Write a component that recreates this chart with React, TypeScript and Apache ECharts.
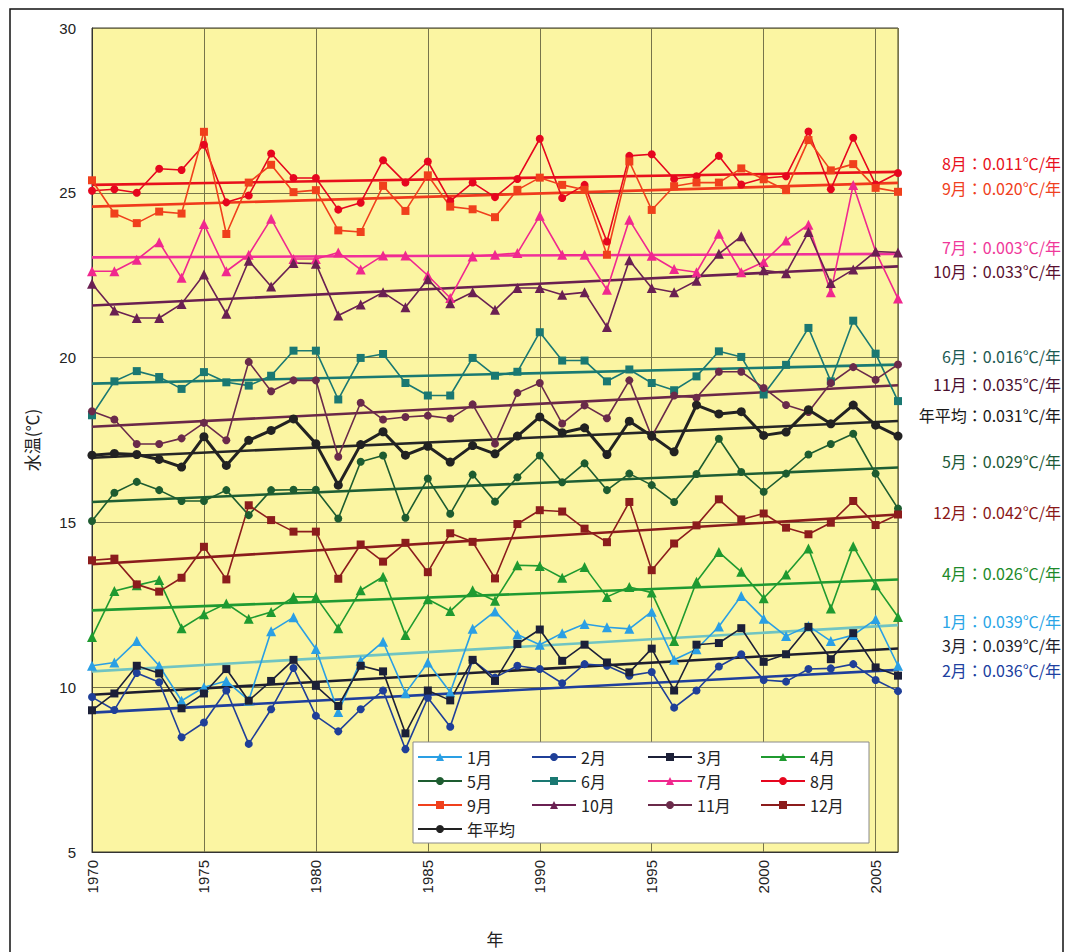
import React, { useEffect, useRef } from "react";
import * as echarts from "echarts";

// 年 (x axis)
const years = [
  1970, 1971, 1972, 1973, 1974, 1975, 1976, 1977, 1978, 1979,
  1980, 1981, 1982, 1983, 1984, 1985, 1986, 1987, 1988, 1989,
  1990, 1991, 1992, 1993, 1994, 1995, 1996, 1997, 1998, 1999,
  2000, 2001, 2002, 2003, 2004, 2005, 2006,
];

const seriesNames = ["1月", "2月", "3月", "4月", "5月", "6月", "7月", "8月", "9月", "10月", "11月", "12月", "年平均"];

// 月別水温 (℃)
const jan = [10.65, 10.75, 11.4, 10.65, 9.59, 10.0, 10.19, 9.6, 11.7, 12.12, 11.16, 9.25, 10.8, 11.38, 9.82, 10.75, 9.85, 11.77, 12.3, 11.6, 11.29, 11.64, 11.92, 11.82, 11.77, 12.29, 10.83, 11.15, 11.84, 12.77, 12.08, 11.55, 11.86, 11.4, 11.58, 12.06, 10.65];
const feb = [9.7, 9.31, 10.43, 10.15, 8.48, 8.93, 9.9, 8.28, 9.33, 10.58, 9.13, 8.66, 9.33, 9.9, 8.12, 9.68, 8.8, 10.82, 10.29, 10.65, 10.55, 10.12, 10.7, 10.65, 10.35, 10.46, 9.38, 9.9, 10.63, 11.0, 10.22, 10.17, 10.55, 10.57, 10.7, 10.22, 9.88];
const mar = [9.3, 9.81, 10.65, 10.42, 9.36, 9.81, 10.55, 9.59, 10.19, 10.83, 10.04, 9.43, 10.65, 10.48, 8.6, 9.9, 9.6, 10.83, 10.19, 11.31, 11.75, 10.8, 11.29, 10.75, 10.45, 11.17, 9.9, 11.29, 11.34, 11.79, 10.77, 11.0, 11.83, 10.85, 11.64, 10.6, 10.35];
const apr = [11.52, 12.92, 13.09, 13.25, 11.79, 12.21, 12.54, 12.08, 12.28, 12.74, 12.74, 11.79, 12.94, 13.35, 11.58, 12.67, 12.31, 12.94, 12.62, 13.7, 13.68, 13.32, 13.65, 12.74, 13.04, 12.87, 11.4, 13.2, 14.1, 13.5, 12.7, 13.42, 14.21, 12.39, 14.28, 13.09, 12.13];
const may = [15.04, 15.9, 16.23, 15.98, 15.65, 15.65, 15.98, 15.22, 15.98, 15.99, 15.99, 15.12, 16.84, 17.03, 15.14, 16.33, 15.26, 16.45, 15.63, 16.37, 17.03, 16.22, 16.79, 15.98, 16.48, 16.13, 15.62, 16.47, 17.54, 16.53, 15.93, 16.48, 17.06, 17.38, 17.69, 16.48, 15.42];
const jun = [18.25, 19.28, 19.59, 19.41, 19.05, 19.56, 19.25, 19.15, 19.45, 20.21, 20.21, 18.73, 19.99, 20.11, 19.23, 18.85, 18.85, 19.99, 19.45, 19.57, 20.77, 19.91, 19.91, 19.28, 19.64, 19.23, 19.01, 19.43, 20.19, 20.02, 18.88, 19.78, 20.9, 19.28, 21.12, 20.12, 18.68];
const jul = [22.62, 22.62, 22.97, 23.5, 22.42, 24.05, 22.62, 23.12, 24.21, 22.99, 22.99, 23.19, 22.67, 23.1, 23.1, 22.49, 21.81, 23.07, 23.12, 23.17, 24.3, 23.12, 23.12, 22.06, 24.18, 23.09, 22.69, 22.59, 23.76, 22.59, 22.9, 23.55, 24.03, 21.98, 25.24, 23.22, 21.79];
const aug = [25.06, 25.11, 25.0, 25.73, 25.69, 26.46, 24.71, 24.92, 26.19, 25.45, 25.45, 24.49, 24.7, 25.99, 25.31, 25.95, 24.75, 25.31, 24.87, 25.42, 26.64, 24.84, 25.24, 23.52, 26.12, 26.17, 25.42, 25.5, 26.12, 25.25, 25.44, 25.5, 26.86, 25.11, 26.67, 25.25, 25.6];
const sep = [25.38, 24.37, 24.08, 24.43, 24.37, 26.85, 23.75, 25.31, 25.85, 25.02, 25.08, 23.86, 23.81, 25.21, 24.45, 25.53, 24.58, 24.5, 24.26, 25.09, 25.46, 25.24, 25.09, 23.12, 25.95, 24.48, 25.2, 25.31, 25.31, 25.74, 25.41, 25.08, 26.6, 25.68, 25.87, 25.15, 25.03];
const oct = [22.24, 21.43, 21.2, 21.2, 21.63, 22.52, 21.33, 22.94, 22.16, 22.87, 22.85, 21.28, 21.61, 21.98, 21.53, 22.38, 21.65, 21.98, 21.45, 22.11, 22.11, 21.91, 21.98, 20.93, 22.95, 22.11, 21.98, 22.33, 23.15, 23.68, 22.65, 22.56, 23.81, 22.26, 22.67, 23.22, 23.19];
const nov = [18.37, 18.12, 17.38, 17.38, 17.55, 18.02, 17.49, 19.87, 18.98, 19.31, 19.31, 16.99, 18.63, 18.12, 18.2, 18.24, 18.15, 18.58, 17.39, 18.93, 19.23, 18.0, 18.55, 18.16, 19.31, 17.6, 18.85, 18.78, 19.57, 19.57, 19.08, 18.56, 18.35, 19.23, 19.71, 19.33, 19.79];
const dec = [13.85, 13.9, 13.12, 12.9, 13.32, 14.26, 13.27, 15.52, 15.07, 14.72, 14.72, 13.29, 14.33, 13.81, 14.38, 13.49, 14.67, 14.41, 13.3, 14.95, 15.37, 15.33, 14.81, 14.4, 15.62, 13.55, 14.36, 14.91, 15.7, 15.09, 15.27, 14.84, 14.64, 14.99, 15.65, 14.92, 15.24];
const annual = [17.04, 17.09, 17.06, 16.91, 16.68, 17.6, 16.73, 17.49, 17.79, 18.14, 17.39, 16.13, 17.36, 17.75, 17.04, 17.31, 16.83, 17.33, 17.08, 17.62, 18.2, 17.72, 17.87, 17.06, 18.07, 17.62, 17.14, 18.56, 18.29, 18.36, 17.64, 17.74, 18.42, 17.99, 18.56, 17.95, 17.62];

// 回帰直線: 傾き (℃/年) と 1970年の値
const trendSlopes = [0.039, 0.036, 0.039, 0.026, 0.029, 0.016, 0.003, 0.011, 0.020, 0.033, 0.035, 0.042, 0.031];
const trendStarts = [10.48, 9.23, 9.77, 12.33, 15.62, 19.21, 23.04, 25.24, 24.58, 21.58, 17.9, 13.73, 16.96];

const yTicks = [5, 10, 15, 20, 25, 30];

const allValues = [jan, feb, mar, apr, may, jun, jul, aug, sep, oct, nov, dec, annual];

const markerColors = ["#2a9fe4", "#1f3f98", "#1c2038", "#1f9a30", "#1d5c30", "#1a7872", "#f0288e", "#e6061e", "#f0401c", "#6a2052", "#6a2a4a", "#8c1c1c", "#222222"];
const trendColors = ["#70c4c2", "#1f3f9c", "#1e1e2e", "#1f9a32", "#1e5e34", "#1a7a72", "#f0309a", "#e8101c", "#f03a1c", "#6a2050", "#6a2848", "#8a1c1c", "#262626"];
const labelColors = ["#2aa5e6", "#2040a0", "#1e1e2a", "#1e8a2a", "#1d5a38", "#1d5a52", "#f0389a", "#e81020", "#f04020", "#5a1030", "#4a1030", "#8a1818", "#1a1a1a"];
const symbols = ["triangle", "circle", "rect", "triangle", "circle", "rect", "triangle", "circle", "rect", "triangle", "circle", "rect", "circle"];

// right-hand slope labels: order top to bottom, with vertical centers
const labelOrder = [7, 8, 6, 9, 5, 10, 12, 4, 11, 3, 0, 2, 1];
const labelCenters = [163, 188, 247, 271, 356, 384, 415, 461, 512, 573, 621, 645, 670];

const FONT = "'Noto Sans CJK JP', 'Noto Sans', sans-serif";
const NUM_FONT = "'Liberation Sans Narrow', 'Liberation Sans', Arial, sans-serif";

export default function App() {
  const ref = useRef<HTMLDivElement>(null);

  useEffect(() => {
    if (!ref.current) return;
    const chart = echarts.init(ref.current, undefined, { renderer: "svg" });

    const x0 = years[0];
    const x1 = years[years.length - 1];

    const dataSeries = seriesNames.map((name, i) => ({
      name,
      type: "line",
      data: years.map((y, j) => [y, allValues[i][j]]),
      symbol: symbols[i],
      symbolSize: symbols[i] === "triangle" ? 10 : i === 12 ? 9 : 8,
      lineStyle: { color: markerColors[i], width: i === 12 ? 3 : 1.6 },
      itemStyle: { color: markerColors[i] },
      z: i === 12 ? 4 : 3,
    }));

    const trendSeries = seriesNames.map((name, i) => ({
      name: name + " 傾向",
      type: "line",
      data: [
        [x0, trendStarts[i]],
        [x1, trendStarts[i] + trendSlopes[i] * (x1 - x0)],
      ],
      symbol: "none",
      silent: true,
      lineStyle: { color: trendColors[i], width: 2.6 },
      z: 2,
    }));

    const legendCols = [
      ["1月", "5月", "9月", "年平均"],
      ["2月", "6月", "10月"],
      ["3月", "7月", "11月"],
      ["4月", "8月", "12月"],
    ];
    const legendLefts = [417, 531, 647, 760];

    const legends = legendCols.map((col, k) => ({
      orient: "vertical",
      left: legendLefts[k],
      top: 748,
      padding: 0,
      itemGap: 6,
      itemWidth: 44,
      itemHeight: 10,
      data: col,
      textStyle: { fontSize: 16, color: "#222", fontFamily: FONT, lineHeight: 18 },
    }));

    const labels = labelOrder.map((idx, k) => ({
      type: "text",
      right: 7,
      top: labelCenters[k] - 9,
      z: 10,
      style: {
        text: `${seriesNames[idx]}：${trendSlopes[idx].toFixed(3)}℃/年`,
        fill: labelColors[idx],
        font: `16px ${FONT}`,
        lineHeight: 18,
      },
    }));

    chart.setOption({
      animation: false,
      backgroundColor: "#ffffff",
      grid: {
        left: 92,
        top: 28,
        width: 806,
        height: 825,
        show: true,
        backgroundColor: "#fbf5a2",
        borderColor: "#3a3a2a",
        borderWidth: 1,
      },
      xAxis: {
        type: "value",
        min: x0,
        max: x1,
        interval: 5,
        name: "年",
        nameLocation: "middle",
        nameGap: 78,
        nameTextStyle: { fontSize: 17, color: "#222", fontFamily: FONT },
        axisLine: { show: true, lineStyle: { color: "#333" } },
        axisTick: { show: false },
        axisLabel: {
          rotate: 90,
          margin: 8,
          fontSize: 15,
          color: "#222",
          fontFamily: NUM_FONT,
          formatter: (v: number) => (v % 5 === 0 ? String(v) : ""),
        },
        splitLine: { show: true, lineStyle: { color: "#77744a", width: 1 } },
      },
      yAxis: {
        type: "value",
        min: yTicks[0],
        max: yTicks[yTicks.length - 1],
        interval: 5,
        name: "水温(℃)",
        nameLocation: "middle",
        nameRotate: 90,
        nameGap: 52,
        nameTextStyle: { fontSize: 17, color: "#222", fontFamily: FONT },
        axisLine: { show: true, lineStyle: { color: "#333" } },
        axisTick: { show: false },
        axisLabel: { margin: 16, fontSize: 15, color: "#222", fontFamily: NUM_FONT },
        splitLine: { show: true, lineStyle: { color: "#77744a", width: 1 } },
      },
      legend: legends,
      graphic: [
        {
          type: "rect",
          shape: { x: 10, y: 9, width: 1053, height: 960 },
          style: { fill: "none", stroke: "#111", lineWidth: 1.5 },
          silent: true,
          z: 10,
        },
        {
          type: "rect",
          shape: { x: 413, y: 742, width: 456, height: 101 },
          style: { fill: "#ffffff", stroke: "#8a8a8a", lineWidth: 1 },
          silent: true,
          z: 3,
        },
        ...labels,
      ],
      series: [...trendSeries, ...dataSeries],
    });

    return () => chart.dispose();
  }, []);

  return (
    <div
      ref={ref}
      style={{ position: "absolute", left: 0, top: 0, width: 1068, height: 952 }}
    />
  );
}
